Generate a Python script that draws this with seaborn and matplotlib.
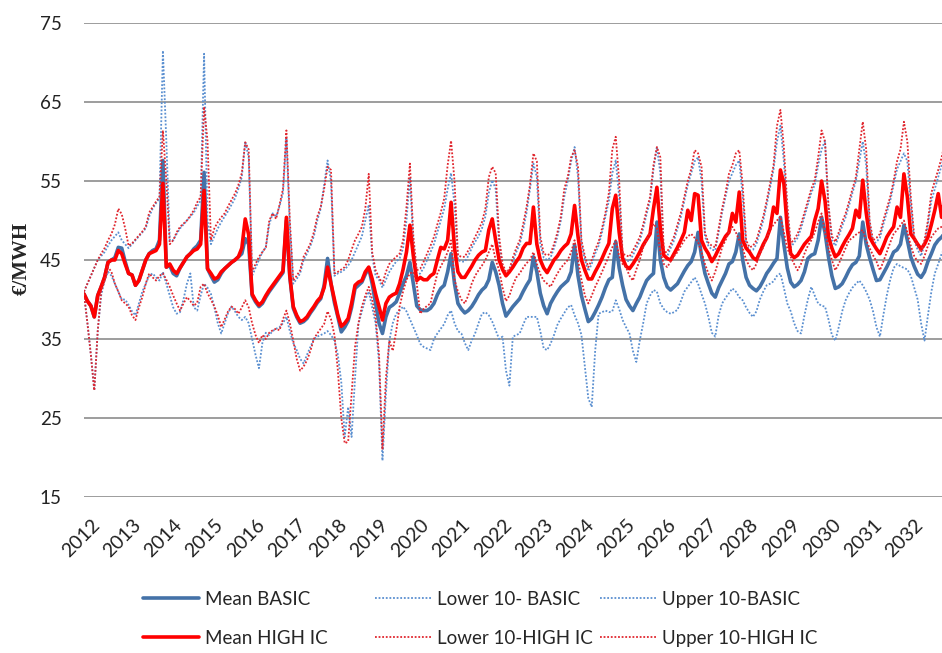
import numpy as np
import pandas as pd
import seaborn as sns
import matplotlib
matplotlib.use("Agg")
import matplotlib.pyplot as plt
from matplotlib.transforms import ScaledTranslation

# monthly values Jan 2012 .. Dec 2032, one row per year
years = [str(y) for y in range(2012, 2033)]

mean_basic = [
    40.7, 39.8, 39.2, 37.8, 40.5, 41.6, 42.8, 44.7, 45.0, 45.3, 46.6, 46.5,
    44.8, 43.3, 43.1, 41.8, 42.4, 43.7, 45.0, 45.8, 46.2, 46.4, 47.5, 57.6,
    44.1, 44.3, 43.3, 43.0, 44.0, 44.7, 45.4, 45.8, 46.4, 46.8, 47.5, 56.1,
    43.9, 43.0, 42.2, 42.5, 43.3, 43.9, 44.3, 44.7, 45.0, 45.4, 45.8, 47.7,
    47.0, 40.5, 39.7, 39.1, 39.5, 40.3, 41.0, 41.6, 42.2, 42.8, 43.4, 50.0,
    42.8, 38.9, 37.8, 37.0, 37.2, 37.6, 38.3, 38.9, 39.6, 40.1, 41.8, 45.2,
    42.0, 39.6, 37.8, 35.9, 36.5, 37.3, 39.0, 41.4, 41.8, 42.2, 43.2, 44.0,
    42.0, 39.5, 37.0, 35.7, 37.8, 39.0, 39.3, 39.7, 40.8, 42.0, 43.0, 44.7,
    42.0, 39.2, 38.7, 38.6, 38.6, 38.9, 39.5, 40.6, 41.4, 41.8, 43.5, 45.8,
    42.0, 39.5, 38.8, 38.3, 38.6, 39.1, 39.8, 40.6, 41.2, 41.6, 42.5, 44.7,
    43.5, 41.8, 39.5, 37.9, 38.5, 39.1, 39.6, 40.1, 41.0, 41.8, 42.5, 45.4,
    43.5, 40.8, 39.2, 38.2, 39.5, 40.3, 41.0, 41.6, 42.0, 42.4, 43.5, 46.9,
    43.0, 40.5, 38.8, 37.2, 37.6, 38.4, 39.3, 40.3, 41.5, 42.5, 42.8, 47.3,
    44.0, 41.8, 40.0, 39.2, 38.6, 39.5, 40.3, 41.4, 42.4, 42.9, 43.3, 49.8,
    45.0, 42.8, 41.6, 41.2, 41.6, 42.0, 42.8, 43.6, 44.3, 44.8, 46.0, 48.5,
    45.5, 43.3, 42.0, 40.8, 40.3, 41.5, 42.4, 43.3, 44.5, 44.8, 46.0, 48.3,
    45.0, 42.8, 41.8, 41.4, 41.1, 41.6, 42.4, 43.3, 43.9, 44.6, 45.2, 50.4,
    47.0, 44.0, 42.2, 41.6, 41.9, 42.4, 43.5, 45.2, 45.6, 45.8, 47.5, 50.4,
    48.5, 45.4, 43.0, 41.4, 41.6, 42.0, 42.8, 43.7, 44.4, 44.7, 45.5, 49.8,
    47.0, 45.3, 43.8, 42.4, 42.5, 43.3, 44.1, 45.0, 46.0, 46.3, 47.0, 49.4,
    47.5, 45.4, 44.2, 43.2, 42.8, 43.5, 44.8, 45.8, 46.9, 47.5, 47.9, 48.5,
]

lower_basic = [
    40.7, 37.0, 33.0, 28.5, 36.0, 40.5, 42.5, 43.5, 43.0, 42.0, 41.0, 40.0,
    40.0, 39.3, 38.5, 38.0, 39.5, 41.0, 42.0, 43.0, 43.3, 42.8, 42.4, 43.5,
    42.0, 40.5, 39.0, 38.2, 38.4, 40.0, 42.0, 43.3, 39.0, 38.6, 40.5, 42.0,
    41.5, 40.7, 39.0, 37.0, 35.7, 37.0, 38.3, 39.1, 38.5, 37.8, 37.4, 37.8,
    37.0, 35.0, 33.0, 31.3, 34.5, 35.8, 35.5, 36.0, 36.3, 36.5, 37.0, 37.8,
    36.0, 34.5, 33.6, 32.5, 31.9, 33.0, 34.0, 35.0, 35.3, 35.5, 35.7, 36.0,
    35.5, 34.8, 33.0, 29.5, 22.6, 26.4, 22.6, 30.0, 36.9, 38.5, 40.0, 41.0,
    39.0, 37.0, 32.0, 19.6, 28.0, 34.8, 37.0, 38.2, 38.6, 39.1, 38.5, 37.5,
    36.5, 35.5, 34.4, 34.0, 33.8, 33.6, 35.0, 35.7, 36.3, 36.9, 38.0, 38.6,
    37.0, 36.0, 35.7, 34.5, 33.6, 34.8, 35.7, 37.0, 38.2, 38.4, 38.0, 37.2,
    36.1, 35.0, 35.3, 31.0, 29.1, 35.3, 35.5, 35.7, 36.8, 37.8, 37.8, 37.8,
    37.8, 36.0, 33.8, 33.6, 34.4, 35.5, 36.8, 37.6, 38.3, 39.0, 39.3, 38.0,
    37.0, 35.5, 31.5, 27.5, 26.4, 33.5, 38.2, 38.4, 38.6, 38.4, 38.5, 39.9,
    38.8, 37.4, 36.5, 35.7, 33.5, 32.1, 34.8, 37.0, 39.5, 40.5, 41.2, 41.0,
    39.5, 38.8, 38.4, 38.2, 38.4, 38.7, 39.8, 41.0, 41.6, 42.2, 42.8, 42.0,
    40.7, 39.5, 37.8, 35.8, 35.3, 38.0, 39.5, 40.2, 40.8, 41.4, 41.0, 40.3,
    39.9, 39.0, 38.3, 37.8, 38.5, 40.0, 41.0, 41.8, 42.0, 42.3, 43.0, 43.3,
    41.5, 39.5, 38.5, 37.0, 36.0, 35.7, 38.0, 40.0, 41.6, 40.5, 39.5, 39.2,
    39.1, 37.5, 35.5, 34.8, 36.5, 38.5, 39.9, 40.8, 41.5, 42.0, 42.4, 41.8,
    41.0, 40.0, 38.5, 36.5, 35.3, 38.0, 40.5, 42.5, 44.0, 44.5, 44.2, 44.0,
    43.8, 43.0, 41.5, 40.0, 37.0, 34.8, 38.0, 41.0, 43.3, 44.5, 45.8, 46.5,
]

upper_basic = [
    41.0, 42.0, 43.0, 44.0, 45.0, 45.5, 46.0, 46.8, 47.5, 48.0, 48.5, 47.5,
    47.0, 46.5, 47.0, 47.5, 48.0, 48.5, 49.0, 50.5, 51.5, 52.2, 52.8, 71.5,
    60.0, 47.5, 47.5, 48.3, 49.0, 49.5, 50.0, 50.5, 51.0, 51.8, 52.5, 71.1,
    50.0, 47.0, 48.0, 49.0, 49.8, 50.5, 51.2, 52.0, 52.8, 54.0, 55.5, 60.0,
    58.0, 43.0, 44.0, 45.0, 46.0, 46.6, 49.5, 50.9, 50.5, 51.8, 53.5, 60.5,
    49.0, 42.0, 42.6, 43.3, 45.0, 45.8, 46.8, 48.0, 50.0, 51.5, 54.5, 57.6,
    55.0, 43.0, 43.3, 43.5, 43.8, 44.3, 45.0, 46.0, 47.0, 48.0, 50.0, 52.0,
    45.5, 43.0, 42.5, 41.5, 42.5, 43.5, 44.2, 44.8, 45.2, 46.5, 50.0, 55.5,
    47.0, 43.0, 43.3, 44.0, 45.0, 46.0, 47.0, 48.5, 50.0, 51.5, 54.0, 56.0,
    52.0, 45.0, 44.8, 44.8, 45.5, 46.5, 47.3, 48.0, 49.0, 50.5, 53.5, 55.1,
    54.0, 47.0, 44.0, 43.0, 43.3, 44.8, 46.0, 47.0, 48.8, 51.0, 54.0, 57.2,
    55.5, 47.0, 45.3, 45.0, 45.3, 46.5, 48.0, 50.0, 53.0, 55.0, 57.5, 59.3,
    55.5, 47.0, 45.0, 43.6, 44.5, 45.8, 46.8, 48.5, 50.5, 52.5, 56.0, 57.6,
    53.0, 45.3, 45.0, 44.8, 45.6, 46.5, 47.4, 49.0, 50.8, 52.5, 56.5, 59.3,
    56.0, 45.5, 45.5, 46.5, 47.5, 49.0, 50.5, 52.5, 54.5, 56.0, 57.5, 58.0,
    55.0, 48.0, 46.8, 46.3, 46.2, 48.5, 51.0, 53.0, 55.0, 56.0, 57.0, 57.6,
    53.0, 47.0, 46.2, 46.3, 47.0, 48.5, 50.0, 52.0, 54.2, 56.5, 60.0, 62.0,
    57.5, 51.0, 46.6, 47.2, 47.8, 49.0, 50.5, 52.0, 53.5, 54.5, 57.0, 59.0,
    60.1, 51.5, 47.5, 46.8, 48.0, 49.3, 50.4, 51.9, 53.5, 55.0, 57.5, 60.0,
    57.0, 49.5, 47.0, 47.3, 47.8, 49.5, 51.0, 52.5, 54.5, 56.5, 57.5, 58.5,
    57.5, 52.0, 47.5, 46.3, 45.5, 47.0, 49.5, 52.5, 54.0, 55.5, 57.0, 58.5,
]

mean_high = [
    40.7, 39.8, 39.2, 37.8, 40.5, 41.6, 42.8, 44.7, 45.0, 45.0, 46.2, 45.8,
    44.5, 43.3, 43.1, 41.8, 42.4, 43.7, 45.0, 45.8, 46.0, 46.2, 47.0, 54.7,
    44.1, 44.5, 43.7, 43.3, 44.0, 44.7, 45.4, 45.8, 46.2, 46.4, 47.0, 53.8,
    43.9, 43.3, 42.6, 42.8, 43.5, 43.9, 44.3, 44.7, 45.0, 45.4, 46.5, 50.2,
    48.2, 40.7, 39.9, 39.3, 39.7, 40.5, 41.2, 41.8, 42.4, 43.0, 43.6, 50.4,
    43.0, 39.1, 38.0, 37.2, 37.4, 37.8, 38.5, 39.1, 39.8, 40.3, 41.5, 44.1,
    42.0, 40.0, 38.0, 36.6, 37.0, 37.6, 39.5, 41.8, 42.2, 42.4, 43.5, 44.1,
    42.6, 40.7, 39.1, 37.4, 39.5, 40.3, 40.6, 40.8, 42.0, 43.8, 46.0, 49.4,
    45.5, 42.4, 42.8, 42.5, 42.5, 43.0, 43.3, 45.0, 46.6, 46.4, 47.5, 52.3,
    46.5, 43.5, 42.8, 42.8, 43.5, 44.2, 45.0, 45.6, 46.0, 46.2, 48.8, 50.2,
    47.5, 45.0, 43.8, 43.0, 43.5, 44.1, 44.8, 45.4, 46.5, 47.1, 47.1, 51.7,
    47.0, 45.0, 44.0, 43.4, 44.2, 45.0, 45.5, 46.2, 46.7, 47.1, 48.3, 51.9,
    48.0, 45.0, 43.7, 42.6, 42.6, 43.5, 44.3, 45.2, 46.2, 47.1, 51.5, 53.2,
    48.5, 45.2, 44.2, 43.9, 44.5, 45.2, 46.0, 46.9, 47.6, 48.3, 51.5, 54.2,
    49.0, 45.6, 45.2, 45.0, 45.8, 46.6, 47.5, 48.5, 51.3, 50.0, 53.4, 53.2,
    47.5, 46.5, 45.8, 44.8, 45.5, 46.4, 47.2, 48.0, 48.5, 50.9, 49.8, 53.6,
    47.5, 46.5, 46.0, 45.3, 45.0, 46.0, 47.0, 47.8, 49.0, 51.7, 50.9, 56.4,
    54.7, 49.0, 45.8, 45.3, 45.6, 46.3, 47.0, 47.5, 48.0, 50.0, 51.5, 55.0,
    52.5, 48.0, 46.5, 45.4, 45.8, 46.7, 47.5, 48.2, 49.0, 51.3, 50.4, 55.1,
    51.0, 47.9, 47.1, 46.4, 45.8, 46.8, 47.9, 48.6, 49.2, 51.7, 50.4, 55.9,
    53.0, 48.3, 47.7, 47.0, 46.4, 47.0, 47.9, 49.5, 51.3, 53.4, 50.4, 54.0,
]

lower_high = [
    40.7, 37.0, 33.0, 28.5, 36.0, 41.0, 42.4, 44.1, 43.5, 42.0, 41.0, 39.9,
    39.5, 39.1, 38.0, 37.4, 39.0, 40.3, 42.0, 43.3, 42.8, 42.4, 43.0, 43.3,
    42.5, 41.6, 40.5, 39.5, 38.6, 39.5, 40.3, 39.8, 39.2, 39.6, 41.6, 42.0,
    40.8, 40.0, 39.1, 38.0, 36.5, 37.5, 38.5, 39.1, 38.8, 38.2, 39.0, 39.9,
    39.0, 37.0, 35.5, 34.5, 35.5, 35.0, 35.8, 36.1, 36.3, 36.1, 37.5, 38.6,
    37.0, 34.8, 32.5, 31.0, 31.5, 32.3, 33.5, 35.0, 35.7, 36.3, 36.9, 38.5,
    37.5, 35.5, 31.0, 25.0, 21.8, 22.0, 28.0, 34.0, 37.0, 39.1, 40.5, 41.6,
    40.0, 37.8, 33.0, 21.0, 30.0, 34.8, 33.5, 36.0, 39.1, 41.0, 42.5, 43.3,
    43.5, 42.0, 38.2, 38.8, 39.2, 39.5, 41.5, 43.3, 44.2, 45.0, 46.0, 47.5,
    42.5, 41.0, 40.0, 39.5, 40.5, 42.0, 43.0, 43.7, 44.3, 45.0, 46.0, 47.0,
    45.0, 43.7, 41.5, 39.8, 40.5, 41.8, 42.8, 43.3, 44.0, 44.6, 45.0, 46.0,
    44.5, 43.2, 42.4, 42.0, 41.6, 42.5, 43.3, 44.0, 44.5, 45.0, 46.0, 47.5,
    45.0, 42.5, 40.5, 39.5, 40.5, 41.6, 42.5, 43.5, 44.5, 45.5, 46.6, 47.5,
    45.5, 44.5, 44.1, 43.0, 42.4, 43.8, 45.0, 46.6, 47.5, 48.5, 49.6, 49.0,
    46.0, 44.5, 44.1, 44.8, 45.5, 46.0, 46.8, 47.5, 48.0, 48.3, 47.8, 47.3,
    46.0, 44.5, 43.3, 42.4, 43.5, 45.0, 46.6, 47.5, 48.5, 49.2, 48.5, 47.5,
    46.5, 45.0, 44.2, 43.7, 44.5, 45.8, 46.6, 47.8, 48.8, 49.5, 50.0, 50.5,
    48.5, 46.5, 45.4, 44.5, 43.7, 44.5, 45.8, 46.8, 47.5, 48.5, 49.8, 50.9,
    48.5, 46.5, 45.0, 43.7, 44.5, 45.5, 46.5, 47.5, 47.8, 48.2, 48.5, 48.8,
    47.5, 46.5, 45.6, 44.8, 43.7, 44.8, 46.0, 47.2, 48.3, 48.8, 49.4, 50.0,
    48.5, 46.8, 45.5, 44.8, 44.5, 45.5, 46.8, 47.9, 48.5, 49.0, 49.2, 49.5,
]

upper_high = [
    41.0, 42.0, 43.0, 44.0, 45.0, 45.8, 46.5, 47.5, 48.3, 49.5, 51.5, 50.8,
    49.0, 46.8, 47.1, 47.6, 48.1, 48.6, 49.2, 51.0, 51.7, 52.4, 53.0, 61.4,
    55.0, 47.0, 47.5, 48.5, 49.2, 49.6, 50.0, 50.6, 51.3, 52.3, 53.0, 64.4,
    60.1, 47.5, 49.0, 49.8, 50.4, 50.9, 51.8, 52.6, 53.4, 54.5, 56.0, 59.9,
    59.0, 43.5, 44.5, 45.4, 46.0, 46.6, 50.0, 50.9, 50.2, 52.0, 54.0, 61.4,
    50.0, 42.4, 43.0, 43.7, 45.4, 46.2, 47.1, 48.5, 50.5, 51.7, 54.0, 56.8,
    56.4, 43.3, 43.5, 43.8, 44.1, 45.0, 46.3, 47.5, 48.3, 49.2, 51.5, 55.9,
    46.0, 43.7, 42.8, 42.0, 43.5, 44.5, 45.0, 45.4, 45.8, 47.5, 51.7, 57.2,
    48.0, 43.7, 43.9, 44.8, 45.8, 46.8, 47.9, 49.5, 51.0, 52.8, 57.0, 60.1,
    55.0, 45.6, 45.4, 45.4, 46.2, 47.0, 47.9, 48.8, 49.8, 51.5, 55.5, 56.8,
    56.0, 48.0, 44.5, 43.5, 43.8, 45.3, 46.5, 47.5, 49.5, 51.7, 54.5, 58.5,
    57.5, 48.0, 45.8, 45.6, 45.8, 47.0, 48.5, 50.5, 54.0, 55.5, 58.0, 58.9,
    56.8, 47.5, 45.5, 44.1, 45.0, 46.3, 47.3, 49.0, 51.0, 53.5, 59.0, 60.6,
    55.0, 45.8, 45.6, 45.4, 46.2, 47.0, 47.9, 49.5, 51.3, 53.0, 57.0, 59.3,
    58.0, 46.0, 46.0, 47.0, 48.0, 49.5, 51.0, 53.0, 55.0, 56.5, 58.9, 58.5,
    56.8, 48.5, 47.2, 46.8, 46.6, 49.0, 51.5, 53.5, 55.9, 57.0, 58.5, 58.9,
    54.5, 47.5, 46.6, 46.8, 47.5, 49.0, 50.5, 52.5, 54.7, 57.0, 62.0, 64.0,
    59.3, 52.0, 47.1, 47.6, 48.3, 49.5, 51.0, 52.5, 54.0, 55.1, 58.0, 61.4,
    60.0, 52.0, 48.0, 47.3, 48.5, 49.8, 50.9, 52.4, 54.0, 55.5, 59.0, 62.5,
    59.0, 50.0, 47.5, 47.8, 48.3, 50.0, 51.5, 53.0, 55.0, 57.5, 59.0, 62.5,
    60.0, 53.0, 48.0, 46.8, 46.0, 47.5, 50.0, 53.5, 55.0, 56.4, 58.0, 60.0,
]

months = np.arange(len(mean_basic))

sns.set_style("white")
plt.rcParams["font.family"] = ["Lato", "DejaVu Sans"]

fig = plt.figure(figsize=(9.42, 6.53), dpi=100)
ax = fig.add_axes([84 / 942, 1 - 497 / 653, 1 - 84 / 942, (497 - 23) / 653])

dot = (0, (1, 1))
series = [
    ("Mean BASIC", mean_basic, "#4472a8", 2.6, "-"),
    ("Lower 10- BASIC", lower_basic, "#5a8fd0", 1.3, dot),
    ("Upper 10-BASIC", upper_basic, "#5a8fd0", 1.3, dot),
    ("Mean HIGH IC", mean_high, "#ff0000", 2.6, "-"),
    ("Lower 10-HIGH IC", lower_high, "#e0262e", 1.3, dot),
    ("Upper 10-HIGH IC", upper_high, "#e0262e", 1.3, dot),
]
for label, vals, color, lw, ls in series:
    sns.lineplot(x=months, y=vals, ax=ax, color=color, linewidth=lw,
                 linestyle=ls, label=label, legend=False)

ax.set_xlim(0, 250.1)
ax.set_ylim(15, 75)
ax.set_yticks(range(15, 76, 10))
ax.yaxis.grid(True, color="#8c8c8c", linewidth=1.2)
ax.xaxis.grid(False)
ax.set_axisbelow(True)
for s in ax.spines.values():
    s.set_visible(False)

ax.set_xticks(np.arange(0, 252, 12))
ax.set_xticklabels(years)
ax.set_xlabel("")
ax.set_ylabel("")
ax.tick_params(axis="y", length=0, pad=16, labelsize=13.5, labelcolor="#222222")
ax.tick_params(axis="x", length=0, pad=14, labelsize=14, labelcolor="#222222")
offset = ScaledTranslation(7 / 100, 0, fig.dpi_scale_trans)
for lbl in ax.get_xticklabels():
    lbl.set_rotation(45)
    lbl.set_ha("right")
    lbl.set_rotation_mode("anchor")
    lbl.set_transform(lbl.get_transform() + offset)

fig.text(22 / 942, 1 - 258 / 653, "€/MWH", rotation=90, ha="center", va="center",
         fontsize=15, fontweight="bold", family=["Liberation Serif", "DejaVu Serif"])

handles, labels = ax.get_legend_handles_labels()
lookup = dict(zip(labels, handles))
columns = [
    (["Mean BASIC", "Mean HIGH IC"], 143),
    (["Lower 10- BASIC", "Lower 10-HIGH IC"], 375),
    (["Upper 10-BASIC", "Upper 10-HIGH IC"], 600),
]
for names, xpx in columns:
    fig.legend([lookup[n] for n in names], names, loc="upper left",
               bbox_to_anchor=(xpx / 942, 1 - 591 / 653), frameon=False,
               fontsize=13.5, handlelength=3.0, handletextpad=0.3,
               labelspacing=1.15, borderpad=0, borderaxespad=0)

fig.savefig("out.png", dpi=100)
